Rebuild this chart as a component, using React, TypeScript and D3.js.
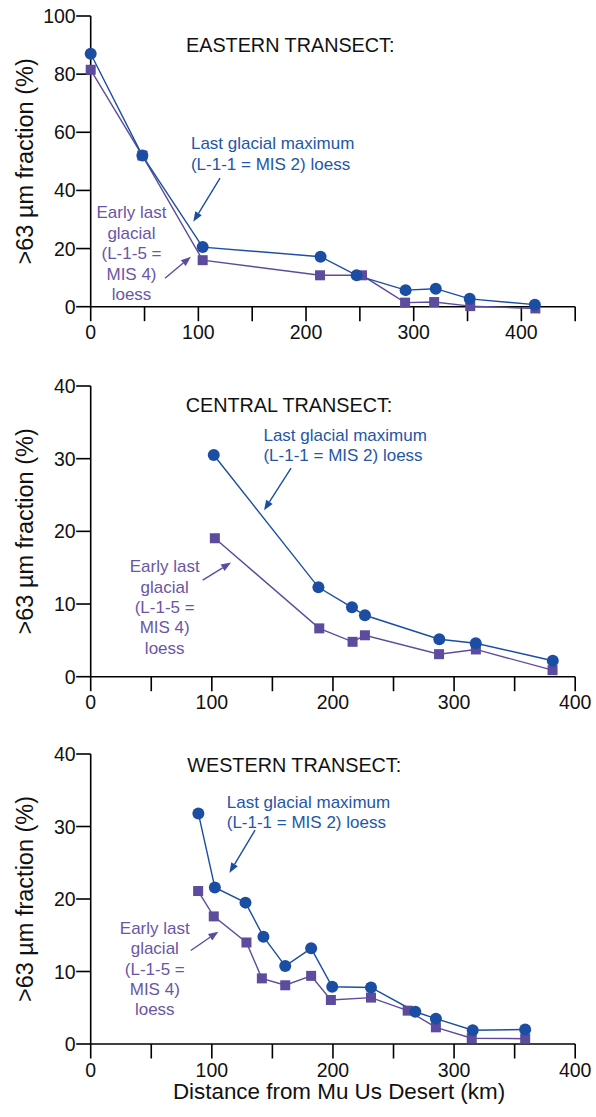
import React from "react";
import * as d3 from "d3";

// ---------- data ----------
const eastLgmX = [0, 48, 104, 213.5, 247, 292.5, 320.5, 352, 412.5];
const eastLgmY = [87, 52, 20.5, 17.2, 10.8, 5.7, 6.2, 2.7, 0.7];
const eastEarlyX = [0, 48, 104, 213, 252, 292, 319, 352.5, 413];
const eastEarlyY = [81.5, 52, 16, 10.8, 10.8, 1.4, 1.6, 0.2, -0.6];

const centLgmX = [101.6, 188, 215.7, 226.4, 287.8, 317.9, 381.5];
const centLgmY = [30.5, 12.3, 9.55, 8.45, 5.15, 4.6, 2.2];
const centEarlyX = [102.5, 188.7, 216.2, 226.4, 287.6, 318, 381.3];
const centEarlyY = [19.05, 6.65, 4.8, 5.7, 3.1, 3.75, 0.9];

const westLgmX = [88.9, 102.5, 127.8, 142.6, 160.6, 182, 199.4, 231.4, 268, 285, 315.4, 358.7];
const westLgmY = [31.8, 21.6, 19.5, 14.8, 10.75, 13.2, 7.9, 7.8, 4.45, 3.5, 1.9, 2.0];
const westEarlyX = [88.7, 101.6, 128.6, 141.3, 160.6, 182, 198.3, 231.4, 261.7, 285, 314.6, 358.7];
const westEarlyY = [21.1, 17.6, 14, 9.05, 8.1, 9.4, 6.07, 6.4, 4.6, 2.3, 0.8, 0.73];

const eastYTicks = [0, 20, 40, 60, 80, 100];
const smallYTicks = [0, 10, 20, 30, 40];
const eastXTicks = [0, 50, 100, 150, 200, 250, 300, 350, 400, 450];
const xTicks400 = [0, 50, 100, 150, 200, 250, 300, 350, 400];
const xTickLabels = [0, 100, 200, 300, 400];

const titles = ["EASTERN TRANSECT:", "CENTRAL TRANSECT:", "WESTERN TRANSECT:"];
const lgmLines = ["Last glacial maximum", "(L-1-1 = MIS 2) loess"];
const earlyLines = ["Early last", "glacial", "(L-1-5 =", "MIS 4)", "loess"];
const yLabel = ">63 \u00b5m fraction (%)";
const xLabel = "Distance from Mu Us Desert (km)";

// ---------- style ----------
const FONT = "'Liberation Sans', Arial, Helvetica, sans-serif";
const BLUE = "#1b4ea3";
const BLUE_TXT = "#2456a8";
const PURPLE = "#5d4b9d";
const PURPLE_TXT = "#6a56a6";

type Ann = {
  lgmText: [number, number];
  lgmArrow: [number, number, number, number];
  earlyText: [number, number];
  earlyArrow: [number, number, number, number];
};

type PanelProps = {
  top: number;
  bottom: number;
  xMax: number;
  yMax: number;
  yTicks: number[];
  xTicks: number[];
  title: string;
  titleX: number;
  titleY: number;
  lgmX: number[];
  lgmY: number[];
  earlyX: number[];
  earlyY: number[];
  ann: Ann;
};

const LEFT = 90.7;
const RIGHT = 575.2;

function Arrow({ x1, y1, x2, y2, color }: { x1: number; y1: number; x2: number; y2: number; color: string }) {
  const ang = Math.atan2(y2 - y1, x2 - x1);
  const len = 10;
  const w = 3.8;
  const bx = x2 - len * Math.cos(ang);
  const by = y2 - len * Math.sin(ang);
  const px = -Math.sin(ang) * w;
  const py = Math.cos(ang) * w;
  return (
    <g>
      <line x1={x1} y1={y1} x2={bx} y2={by} stroke={color} strokeWidth={1.4} />
      <path d={`M${x2},${y2}L${bx + px},${by + py}L${bx - px},${by - py}Z`} fill={color} />
    </g>
  );
}

function Panel(p: PanelProps) {
  const x = d3.scaleLinear().domain([0, p.xMax]).range([LEFT, RIGHT]);
  const y = d3.scaleLinear().domain([0, p.yMax]).range([p.bottom, p.top]);
  const line = d3
    .line<[number, number]>()
    .x((d) => x(d[0]))
    .y((d) => y(d[1]));
  const lgm: [number, number][] = p.lgmX.map((v, i) => [v, p.lgmY[i]]);
  const early: [number, number][] = p.earlyX.map((v, i) => [v, p.earlyY[i]]);
  const tickLen = 14.5;
  const sq = 10;
  const a = p.ann;
  const lh = 20.4;
  return (
    <g>
      {/* axes */}
      <line x1={LEFT} y1={p.top} x2={LEFT} y2={p.bottom} stroke="#000" strokeWidth={1.6} />
      <line x1={LEFT} y1={p.bottom} x2={RIGHT} y2={p.bottom} stroke="#000" strokeWidth={1.6} />
      {p.yTicks.map((t) => (
        <g key={"y" + t}>
          <line x1={LEFT - tickLen} x2={LEFT} y1={y(t)} y2={y(t)} stroke="#000" strokeWidth={1.6} />
          <text x={LEFT - 15} y={y(t) + 7} textAnchor="end" fontSize={19.5} fontFamily={FONT} fill="#111">
            {t}
          </text>
        </g>
      ))}
      {p.xTicks.map((t) => (
        <line key={"x" + t} x1={x(t)} x2={x(t)} y1={p.bottom} y2={p.bottom + tickLen} stroke="#000" strokeWidth={1.6} />
      ))}
      {xTickLabels.map((t) => (
        <text key={"xl" + t} x={x(t)} y={p.bottom + 32.7} textAnchor="middle" fontSize={19.5} fontFamily={FONT} fill="#111">
          {t}
        </text>
      ))}
      <text
        transform={`translate(33,${(p.top + p.bottom) / 2}) rotate(-90)`}
        textAnchor="middle"
        fontSize={23.5}
        fontFamily={FONT}
        fill="#111"
      >
        {yLabel}
      </text>
      <text x={p.titleX} y={p.titleY} fontSize={19.8} fontFamily={FONT} fill="#111">
        {p.title}
      </text>
      {/* series lines */}
      <path d={line(early) || ""} fill="none" stroke={PURPLE} strokeWidth={1.4} />
      <path d={line(lgm) || ""} fill="none" stroke={BLUE} strokeWidth={1.4} />
      {/* markers */}
      {early.map((d, i) => (
        <rect key={"e" + i} x={x(d[0]) - sq / 2} y={y(d[1]) - sq / 2} width={sq} height={sq} fill={PURPLE} />
      ))}
      {lgm.map((d, i) => (
        <circle key={"l" + i} cx={x(d[0])} cy={y(d[1])} r={6} fill={BLUE} />
      ))}
      {/* annotations */}
      <text x={x(a.lgmText[0])} y={y(a.lgmText[1])} fontSize={17} fontFamily={FONT} fill={BLUE_TXT}>
        {lgmLines.map((s, i) => (
          <tspan key={i} x={x(a.lgmText[0])} dy={i === 0 ? 0 : lh}>
            {s}
          </tspan>
        ))}
      </text>
      <Arrow x1={x(a.lgmArrow[0])} y1={y(a.lgmArrow[1])} x2={x(a.lgmArrow[2])} y2={y(a.lgmArrow[3])} color={BLUE} />
      <text x={x(a.earlyText[0])} y={y(a.earlyText[1])} fontSize={17} fontFamily={FONT} fill={PURPLE_TXT} textAnchor="middle">
        {earlyLines.map((s, i) => (
          <tspan key={i} x={x(a.earlyText[0])} dy={i === 0 ? 0 : lh}>
            {s}
          </tspan>
        ))}
      </text>
      <Arrow
        x1={x(a.earlyArrow[0])}
        y1={y(a.earlyArrow[1])}
        x2={x(a.earlyArrow[2])}
        y2={y(a.earlyArrow[3])}
        color={PURPLE}
      />
    </g>
  );
}

export default function App() {
  return (
    <svg
      width={596}
      height={1117}
      viewBox="0 0 596 1117"
      style={{ position: "absolute", left: 0, top: 0, background: "#fff" }}
    >
      <rect x={0} y={0} width={596} height={1117} fill="#fff" />
      <Panel
        top={16}
        bottom={306.7}
        xMax={450}
        yMax={100}
        yTicks={eastYTicks}
        xTicks={eastXTicks}
        title={titles[0]}
        titleX={186}
        titleY={52}
        lgmX={eastLgmX}
        lgmY={eastLgmY}
        earlyX={eastEarlyX}
        earlyY={eastEarlyY}
        ann={{
          lgmText: [93.1, 54.1],
          lgmArrow: [120.1, 44.2, 95.3, 29.2],
          earlyText: [37.9, 30.4],
          earlyArrow: [69, 9.8, 93.1, 17.2],
        }}
      />
      <Panel
        top={386}
        bottom={676.7}
        xMax={400}
        yMax={40}
        yTicks={smallYTicks}
        xTicks={xTicks400}
        title={titles[1]}
        titleX={185.7}
        titleY={411.7}
        lgmX={centLgmX}
        lgmY={centLgmY}
        earlyX={centEarlyX}
        earlyY={centEarlyY}
        ann={{
          lgmText: [142.6, 32.47],
          lgmArrow: [165.4, 28.7, 143.1, 22.9],
          earlyText: [61.1, 14.37],
          earlyArrow: [92.5, 13.3, 115.9, 15.7],
        }}
      />
      <Panel
        top={754}
        bottom={1044}
        xMax={400}
        yMax={40}
        yTicks={smallYTicks}
        xTicks={xTicks400}
        title={titles[2]}
        titleX={187.3}
        titleY={771.7}
        lgmX={westLgmX}
        lgmY={westLgmY}
        earlyX={westEarlyX}
        earlyY={westEarlyY}
        ann={{
          lgmText: [112.3, 32.6],
          lgmArrow: [135.7, 29.5, 114.5, 23.6],
          earlyText: [52.9, 15.2],
          earlyArrow: [82.6, 12.9, 105.4, 15.5],
        }}
      />
      <text x={339} y={1099} textAnchor="middle" fontSize={22.4} fontFamily={FONT} fill="#111">
        {xLabel}
      </text>
    </svg>
  );
}
